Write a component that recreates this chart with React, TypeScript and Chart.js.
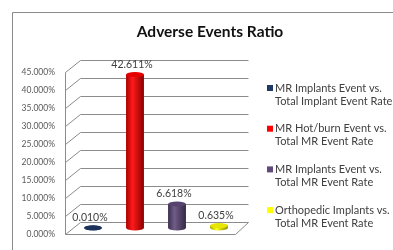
import React, { useEffect, useRef } from "react";
import { Chart, registerables } from "chart.js";

Chart.register(...registerables);

const categories = [
  "MR Implants Event vs. Total Implant Event Rate",
  "MR Hot/burn Event vs. Total MR Event Rate",
  "MR Implants Event vs. Total MR Event Rate",
  "Orthopedic Implants vs. Total MR Event Rate",
];
const legendLines = [
  ["MR Implants Event vs.", "Total Implant Event Rate"],
  ["MR Hot/burn Event vs.", "Total MR Event Rate"],
  ["MR Implants Event vs.", "Total MR Event Rate"],
  ["Orthopedic Implants vs.", "Total MR Event Rate"],
];
const values = [0.01, 42.611, 6.618, 0.635];
const valueLabels = ["0.010%", "42.611%", "6.618%", "0.635%"];
const colors = ["#1F3864", "#FF0000", "#604A7B", "#FFFF00"];
const titleText = "Adverse Events Ratio";

function shade(hex: string, f: number) {
  const n = parseInt(hex.slice(1), 16);
  let r = (n >> 16) & 255, g = (n >> 8) & 255, b = n & 255;
  if (f < 0) {
    r = Math.round(r * (1 + f)); g = Math.round(g * (1 + f)); b = Math.round(b * (1 + f));
  } else {
    r = Math.round(r + (255 - r) * f); g = Math.round(g + (255 - g) * f); b = Math.round(b + (255 - b) * f);
  }
  return `rgb(${r},${g},${b})`;
}

const decor = {
  id: "decor",
  beforeDraw(chart: any) {
    const ctx = chart.ctx;
    ctx.save();
    ctx.fillStyle = "#ffffff";
    ctx.fillRect(0, 0, chart.width, chart.height);
    ctx.strokeStyle = "#8a8a8a";
    ctx.lineWidth = 1;
    ctx.beginPath();
    ctx.moveTo(12.5, 260);
    ctx.lineTo(12.5, 12.5);
    ctx.lineTo(400, 12.5);
    ctx.stroke();
    // title
    ctx.fillStyle = "#111111";
    ctx.font = "bold 15.5px Lato, 'Open Sans', sans-serif";
    ctx.textAlign = "center";
    ctx.textBaseline = "middle";
    ctx.fillText(titleText, 210, 32);
    ctx.restore();
  },
  beforeDatasetsDraw(chart: any) {
    const ctx = chart.ctx;
    const ys = chart.scales.y;
    ctx.save();
    ctx.strokeStyle = "#8c8c8c";
    ctx.lineWidth = 1;
    const fx = 65.5, bx = 80.5, rx = 248.5, d = 6;
    for (let v = 5; v <= 45; v += 5) {
      const y = Math.round(ys.getPixelForValue(v));
      ctx.beginPath();
      ctx.moveTo(fx, y + d + 0.5);
      ctx.lineTo(bx, y - d + 0.5);
      ctx.lineTo(rx, y - d + 0.5);
      ctx.stroke();
    }
    const y0 = Math.round(ys.getPixelForValue(0));
    const y45 = Math.round(ys.getPixelForValue(45));
    ctx.beginPath();
    ctx.moveTo(fx, y45 + d + 0.5);
    ctx.lineTo(fx, y0 + d + 0.5);
    ctx.lineTo(235.5, y0 + d + 0.5);
    ctx.lineTo(rx, y0 - d + 0.5);
    ctx.lineTo(bx, y0 - d + 0.5);
    ctx.lineTo(fx, y0 + d + 0.5);
    ctx.stroke();
    ctx.restore();
  },
  afterDatasetsDraw(chart: any) {
    const ctx = chart.ctx;
    const meta = chart.getDatasetMeta(0);
    ctx.save();
    meta.data.forEach((bar: any, i: number) => {
      const c = colors[i];
      const w = bar.width;
      const x0 = bar.x - w / 2;
      const top = bar.y;
      const base = bar.base;
      const ry = 2.5;
      const g = ctx.createLinearGradient(x0, 0, x0 + w, 0);
      g.addColorStop(0, shade(c, -0.35));
      g.addColorStop(0.35, shade(c, 0.1));
      g.addColorStop(1, shade(c, -0.45));
      ctx.fillStyle = g;
      ctx.beginPath();
      ctx.ellipse(bar.x, base, w / 2, ry, 0, 0, Math.PI * 2);
      ctx.fill();
      if (base - top > 1) {
        ctx.fillRect(x0, top, w, base - top);
      }
      ctx.fillStyle = shade(c, -0.1);
      ctx.beginPath();
      ctx.ellipse(bar.x, top, w / 2, ry, 0, 0, Math.PI * 2);
      ctx.fill();
      // value label
      ctx.fillStyle = "#404040";
      ctx.font = "10.5px Lato, 'Open Sans', sans-serif";
      ctx.textAlign = "center";
      ctx.textBaseline = "middle";
      ctx.fillText(valueLabels[i], bar.x - 3, top - 10);
    });
    // legend
    ctx.font = "11px Lato, 'Open Sans', sans-serif";
    ctx.textAlign = "left";
    ctx.textBaseline = "middle";
    legendLines.forEach((lines, i) => {
      const y = 88 + i * 40.7;
      ctx.fillStyle = colors[i];
      ctx.fillRect(267, y - 3, 6, 6);
      ctx.fillStyle = "#404040";
      ctx.fillText(lines[0], 275, y);
      ctx.fillText(lines[1], 275, y + 13);
    });
    ctx.restore();
  },
};

export default function App() {
  const ref = useRef<HTMLCanvasElement>(null);
  useEffect(() => {
    if (!ref.current) return;
    const chart = new Chart(ref.current, {
      type: "bar",
      data: {
        labels: categories,
        datasets: [
          {
            data: values,
            backgroundColor: colors,
            borderWidth: 0,
            barPercentage: 0.42,
            categoryPercentage: 1,
          },
        ],
      },
      options: {
        animation: false,
        responsive: false,
        maintainAspectRatio: false,
        layout: { padding: { left: 0, top: 66, right: 153, bottom: 15 } },
        plugins: {
          legend: { display: false },
          title: { display: false },
          tooltip: { enabled: false },
        },
        scales: {
          x: { display: false },
          y: {
            min: 0,
            max: 45,
            border: { display: false },
            grid: { display: false, drawTicks: false },
            afterFit: (s: any) => {
              s.width = 72;
            },
            ticks: {
              stepSize: 5,
              padding: 17,
              labelOffset: 6,
              color: "#595959",
              font: { family: "Lato, 'Open Sans', sans-serif", size: 8.5 },
              callback: (v: any) => Number(v).toFixed(3) + "%",
            },
          },
        },
      },
      plugins: [decor],
    });
    return () => chart.destroy();
  }, []);
  return (
    <div style={{ position: "fixed", left: 0, top: 0, width: 393, height: 250, background: "#fff" }}>
      <canvas ref={ref} width={393} height={250} style={{ display: "block" }} />
    </div>
  );
}
